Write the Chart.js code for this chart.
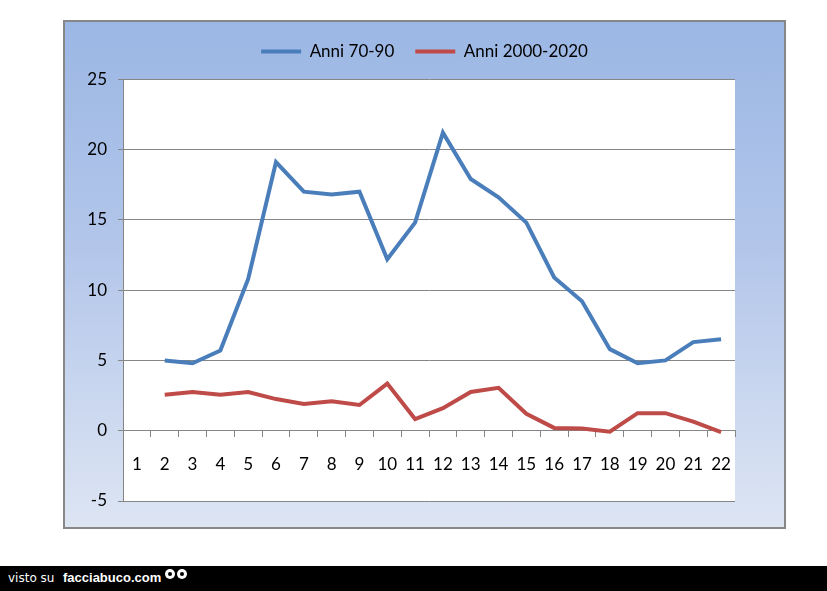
<!DOCTYPE html>
<html>
<head>
<meta charset="utf-8">
<script src="https://cdn.jsdelivr.net/npm/chart.js@4"></script>
<style>
  html, body { margin: 0; padding: 0; background: #ffffff; width: 827px; height: 591px; overflow: hidden; }
  #frame {
    position: absolute; left: 63px; top: 20px; width: 719px; height: 505px;
    border: 2px solid #878787;
    background: linear-gradient(to bottom, #9bb7e4 0%, #b3c6ea 45%, #dde5f3 100%);
  }
  #frame canvas { position: absolute; left: 0; top: 0; }
  #band {
    position: absolute; left: 0; top: 566px; width: 827px; height: 25px; background: #000;
    color: #fff; font-family: "Liberation Sans", sans-serif;
  }
  #band .v { position: absolute; left: 8px; top: 5px; font-size: 12px; font-family: "DejaVu Sans", sans-serif; }
  #band .f { position: absolute; left: 63px; top: 4px; font-size: 13px; font-weight: bold; }
  #band .e { position: absolute; top: 3px; width: 10px; height: 10px; border-radius: 50%; background: #fff; }
  #band .e::after { content: ""; position: absolute; left: 3px; top: 3px; width: 4px; height: 4px; border-radius: 50%; background: #000; }
</style>
</head>
<body>
<div id="frame"><canvas id="c" width="719" height="505"></canvas></div>
<div id="band"><span class="v">visto su</span><span class="f">facciabuco.com</span><span class="e" style="left:165px"></span><span class="e" style="left:177px"></span></div>
<script>
const categories = ['1','2','3','4','5','6','7','8','9','10','11','12','13','14','15','16','17','18','19','20','21','22'];
const seriesNames = ['Anni 70-90', 'Anni 2000-2020'];
const anni7090 = [null, 5.0, 4.8, 5.7, 10.8, 19.1, 17.0, 16.8, 17.0, 12.2, 14.8, 21.2, 17.9, 16.6, 14.8, 10.9, 9.2, 5.8, 4.8, 5.0, 6.3, 6.5];
const anni20002020 = [null, 2.55, 2.75, 2.55, 2.75, 2.25, 1.9, 2.1, 1.83, 3.35, 0.83, 1.6, 2.75, 3.05, 1.2, 0.2, 0.15, -0.07, 1.25, 1.25, 0.65, -0.1];
const yTicks = [-5, 0, 5, 10, 15, 20, 25];

const FONT = 'Lato';
const plotBg = {
  id: 'plotBg',
  beforeDraw(chart) {
    const a = chart.chartArea, ctx = chart.ctx;
    ctx.save(); ctx.fillStyle = '#ffffff';
    ctx.fillRect(a.left, a.top, a.right - a.left, a.bottom - a.top);
    ctx.restore();
  }
};

new Chart(document.getElementById('c'), {
  type: 'line',
  data: {
    labels: categories,
    datasets: [
      { label: seriesNames[0], data: anni7090, borderColor: '#4a7ebb', backgroundColor: '#4a7ebb', borderWidth: 4, pointRadius: 0, tension: 0, spanGaps: false },
      { label: seriesNames[1], data: anni20002020, borderColor: '#be4b48', backgroundColor: '#be4b48', borderWidth: 4, pointRadius: 0, tension: 0, spanGaps: false }
    ]
  },
  options: {
    responsive: false,
    animation: false,
    devicePixelRatio: 1,
    layout: { padding: { left: 0, right: 0, top: 0, bottom: 26 } },
    plugins: {
      tooltip: { enabled: false },
      subtitle: {
        display: true,
        text: '',
        weight: 500,
        position: 'top',
        font: { size: 1 },
        padding: { top: 8, bottom: 0 }
      },
      legend: {
        position: 'top',
        align: 'center',
        labels: {
          font: { family: FONT, size: 17 },
          color: '#000',
          boxWidth: 40,
          boxHeight: 4,
          padding: 21,
          generateLabels(chart) {
            return chart.data.datasets.map((d, i) => ({
              text: d.label, fillStyle: d.borderColor, strokeStyle: d.borderColor,
              lineWidth: 0, hidden: false, datasetIndex: i, fontColor: '#000'
            }));
          }
        }
      }
    },
    scales: {
      x: {
        type: 'category',
        position: { y: 0 },
        offset: true,
        grid: { offset: true, drawOnChartArea: false, drawTicks: true, tickLength: 6, color: '#868686' },
        border: { display: true, color: '#868686', width: 1 },
        ticks: { font: { family: FONT, size: 17 }, color: '#000', padding: 18, maxRotation: 0, autoSkip: false }
      },
      y: {
        min: -5, max: 25,
        afterBuildTicks(axis) { axis.ticks = yTicks.map(v => ({ value: v })); },
        afterFit(axis) { axis.width = 58; },
        grid: { color: '#868686', drawTicks: true, tickLength: 5 },
        border: { display: true, color: '#868686', width: 1 },
        ticks: { font: { family: FONT, size: 17 }, color: '#000', padding: 11 }
      },
      yr: {
        position: 'right',
        min: -5, max: 25,
        display: true,
        afterFit(axis) { axis.width = 49; },
        grid: { display: false, drawTicks: false },
        border: { display: false },
        ticks: { display: false }
      }
    }
  },
  plugins: [plotBg]
});
</script>
</body>
</html>
